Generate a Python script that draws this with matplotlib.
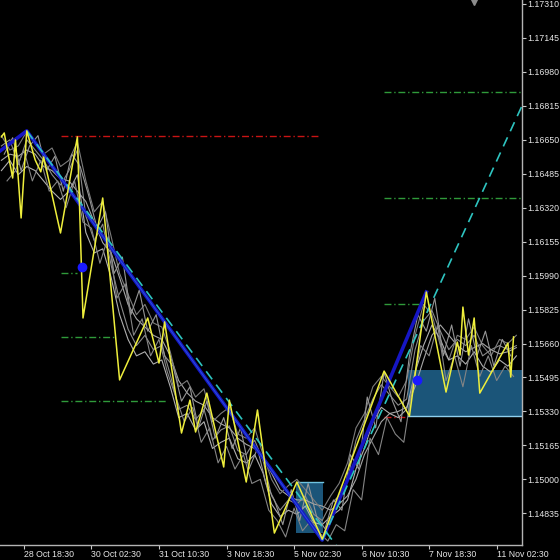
import matplotlib
matplotlib.use("Agg")
import matplotlib.pyplot as plt
from matplotlib.patches import Rectangle

plt.rcParams["font.family"] = ["Liberation Sans", "DejaVu Sans"]

# eje x en barras (indice de vela), eje y en precio
X_MIN, X_MAX = -0.5, 185
Y_MIN, Y_MAX = 1.14681, 1.17329

precio_ticks = [1.14835, 1.15000, 1.15165, 1.15330, 1.15495, 1.15660, 1.15825, 1.15990,
                1.16155, 1.16320, 1.16485, 1.16650, 1.16815, 1.16980, 1.17145, 1.17310]
fecha_barras = [8, 32, 56, 80, 104, 128, 152, 176]
fecha_labels = ["28 Oct 18:30", "30 Oct 02:30", "31 Oct 10:30", "3 Nov 18:30",
                "5 Nov 02:30", "6 Nov 10:30", "7 Nov 18:30", "11 Nov 02:30"]

# zigzag amarillo
zz_barras = [0, 1, 4, 5, 7, 9, 12, 14, 15, 21, 27, 29, 36, 42, 52, 56, 58, 64, 67, 69,
             73, 79, 81, 87, 91, 97, 105, 114, 136, 145, 151, 158, 162, 163, 164, 166,
             168, 170, 180, 181, 182]
zz_precio = [1.16664, 1.16683, 1.16464, 1.16649, 1.16270, 1.16693, 1.16552, 1.16494,
             1.16566, 1.16197, 1.16664, 1.15784, 1.16367, 1.15483, 1.15784, 1.15565,
             1.15765, 1.15225, 1.15385, 1.15230, 1.15419, 1.15060, 1.15385, 1.14987,
             1.15337, 1.14739, 1.14987, 1.14710, 1.15526, 1.15308, 1.15910, 1.15424,
             1.15667, 1.15604, 1.15837, 1.15604, 1.15784, 1.15419, 1.15662, 1.15497,
             1.15692]

# lineas grises (cierres de distintos escenarios)
gris_barras_a = list(range(0, 184, 3))
gris_barras_b = list(range(1, 182, 3))
gris_barras_c = list(range(2, 183, 3))
gris_1 = [1.1662, 1.1665, 1.1653, 1.1665, 1.1660, 1.1655, 1.1648, 1.1643, 1.1650, 1.1660,
          1.1628, 1.1616, 1.1624, 1.1604, 1.1587, 1.1573, 1.1565, 1.1570, 1.1563, 1.1565,
          1.1551, 1.1534, 1.1536, 1.1529, 1.1534, 1.1519, 1.1524, 1.1526, 1.1514, 1.1512,
          1.1519, 1.1509, 1.1492, 1.1485, 1.1490, 1.1488, 1.1492, 1.1483, 1.1480, 1.1488,
          1.1492, 1.1500, 1.1519, 1.1529, 1.1539, 1.1546, 1.1541, 1.1536, 1.1539, 1.1563,
          1.1577, 1.1582, 1.1572, 1.1563, 1.1568, 1.1565, 1.1570, 1.1560, 1.1563, 1.1565,
          1.1563, 1.1565]
gris_2 = [1.1655, 1.1658, 1.1657, 1.1660, 1.1658, 1.1652, 1.1650, 1.1646, 1.1645, 1.1640,
          1.1635, 1.1625, 1.1615, 1.1610, 1.1598, 1.1585, 1.1578, 1.1574, 1.1570, 1.1568,
          1.1560, 1.1548, 1.1542, 1.1538, 1.1536, 1.1530, 1.1527, 1.1525, 1.1520, 1.1517,
          1.1515, 1.1510, 1.1503, 1.1495, 1.1492, 1.1490, 1.1490, 1.1488, 1.1487, 1.1485,
          1.1488, 1.1492, 1.1500, 1.1512, 1.1520, 1.1528, 1.1532, 1.1533, 1.1535, 1.1545,
          1.1558, 1.1570, 1.1575, 1.1570, 1.1565, 1.1562, 1.1564, 1.1566, 1.1563, 1.1561,
          1.1562, 1.1564]
gris_3 = [1.1667, 1.1660, 1.1662, 1.1669, 1.1663, 1.1658, 1.1661, 1.1652, 1.1655, 1.1664,
          1.1645, 1.1630, 1.1635, 1.1618, 1.1600, 1.1590, 1.1580, 1.1585, 1.1576, 1.1574,
          1.1562, 1.1545, 1.1548, 1.1540, 1.1544, 1.1528, 1.1532, 1.1535, 1.1522, 1.1520,
          1.1525, 1.1512, 1.1500, 1.1493, 1.1497, 1.1500, 1.1495, 1.1490, 1.1485, 1.1492,
          1.1498, 1.1508, 1.1525, 1.1532, 1.1545, 1.1550, 1.1545, 1.1540, 1.1548, 1.1570,
          1.1585, 1.1580, 1.1565, 1.1558, 1.1570, 1.1568, 1.1574, 1.1565, 1.1560, 1.1568,
          1.1566, 1.1570]
gris_4 = [1.1650, 1.1655, 1.1648, 1.1652, 1.1650, 1.1645, 1.1640, 1.1636, 1.1640, 1.1648,
          1.1620, 1.1610, 1.1612, 1.1598, 1.1580, 1.1568, 1.1560, 1.1562, 1.1556, 1.1558,
          1.1545, 1.1530, 1.1532, 1.1524, 1.1528, 1.1515, 1.1518, 1.1520, 1.1510, 1.1508,
          1.1512, 1.1503, 1.1488, 1.1482, 1.1485, 1.1483, 1.1487, 1.1479, 1.1478, 1.1482,
          1.1485, 1.1490, 1.1505, 1.1515, 1.1528, 1.1535, 1.1532, 1.1530, 1.1534, 1.1552,
          1.1565, 1.1575, 1.1568, 1.1558, 1.1560, 1.1556, 1.1562, 1.1555, 1.1552, 1.1558,
          1.1555, 1.1560]
gris_5 = [1.1658, 1.1666, 1.1650, 1.1662, 1.1667, 1.1650, 1.1657, 1.1640, 1.1658, 1.1652,
          1.1638, 1.1622, 1.1630, 1.1600, 1.1608, 1.1580, 1.1592, 1.1572, 1.1580, 1.1560,
          1.1555, 1.1538, 1.1545, 1.1525, 1.1538, 1.1520, 1.1530, 1.1515, 1.1525, 1.1505,
          1.1515, 1.1498, 1.1490, 1.1478, 1.1495, 1.1480, 1.1498, 1.1482, 1.1476, 1.1490,
          1.1485, 1.1512, 1.1505, 1.1540, 1.1525, 1.1552, 1.1538, 1.1528, 1.1560, 1.1580,
          1.1572, 1.1588, 1.1560, 1.1575, 1.1555, 1.1578, 1.1560, 1.1572, 1.1555, 1.1568,
          1.1560]
gris_6 = [1.1645, 1.1650, 1.1660, 1.1645, 1.1655, 1.1640, 1.1645, 1.1632, 1.1645, 1.1625,
          1.1622, 1.1605, 1.1618, 1.1588, 1.1595, 1.1570, 1.1578, 1.1560, 1.1568, 1.1552,
          1.1540, 1.1528, 1.1535, 1.1518, 1.1525, 1.1508, 1.1516, 1.1505, 1.1512, 1.1498,
          1.1500, 1.1485, 1.1480, 1.1472, 1.1486, 1.1475, 1.1480, 1.1474, 1.1470, 1.1478,
          1.1475, 1.1495, 1.1490, 1.1520, 1.1512, 1.1530, 1.1522, 1.1518, 1.1545, 1.1565,
          1.1560, 1.1575, 1.1548, 1.1560, 1.1545, 1.1565, 1.1550, 1.1560, 1.1548, 1.1555,
          1.1550]
grises = [(gris_barras_a, gris_1, "#8a8a8a"), (gris_barras_a, gris_2, "#a6a6a6"),
          (gris_barras_a, gris_3, "#7c7c7c"), (gris_barras_a, gris_4, "#b0b0b0"),
          (gris_barras_b, gris_5, "#969696"), (gris_barras_c, gris_6, "#858585")]

# tendencia (azul) y canales (cian discontinuo)
tend_barras = [-1, 9, 114, 151]
tend_precio = [1.16590, 1.16693, 1.14705, 1.15910]
canal_baja_barras = [9, 120]
canal_baja_precio = [1.16693, 1.14660]
canal_alza_barras = [114, 185]
canal_alza_precio = [1.14705, 1.16815]

# niveles horizontales: (precio, barra inicio, barra fin)
niveles_verdes = [(1.16003, 21, 27), (1.15692, 21, 40), (1.15381, 21, 59),
                  (1.15852, 136, 150), (1.16367, 136, 185), (1.16882, 136, 185)]
niveles_rojos = [(1.16669, 21, 113), (1.15303, 136, 144)]

# zonas (barra inicio, barra fin, precio bajo, precio alto)
zonas = [(104.7, 114.3, 1.14739, 1.14987), (144.5, 185, 1.15308, 1.15531)]

# señales
senal_barras = [28.6, 147.7]
senal_precio = [1.16032, 1.15483]

fig = plt.figure(figsize=(5.6, 5.6), dpi=100, facecolor="black")
ax = fig.add_axes([0, 15 / 560, 522 / 560, 545 / 560], facecolor="black")

for b0, b1, p0, p1 in zonas:
    ax.add_patch(Rectangle((b0, p0), b1 - b0, p1 - p0, facecolor="#1b5579",
                           edgecolor="none", zorder=1))
ax.plot([zonas[0][0], zonas[0][1]], [zonas[0][3]] * 2, color="#6fc3e0", lw=1, zorder=2)
ax.plot([zonas[1][0], zonas[1][1]], [zonas[1][2]] * 2, color="#8fd0ee", lw=1, zorder=2)

for p, b0, b1 in niveles_verdes:
    ax.plot([b0, b1], [p, p], color="#2f9a3a", lw=1, dashes=(5, 2, 1, 2), zorder=2)
for p, b0, b1 in niveles_rojos:
    ax.plot([b0, b1], [p, p], color="#c81414", lw=1, dashes=(5, 2, 1, 2), zorder=2)

for xs, serie, c in grises:
    ax.plot(xs, serie, color=c, lw=0.8, zorder=3)

ax.plot(tend_barras, tend_precio, color="#1616c4", lw=2.6, zorder=4)
ax.plot(tend_barras[1:3], tend_precio[1:3], color="#3a8cf0", lw=0.7, zorder=4,
        alpha=0.5)
ax.plot(canal_baja_barras, canal_baja_precio, color="#2ec4c0", lw=1.2,
        dashes=(6, 4), zorder=4)
ax.plot(canal_alza_barras, canal_alza_precio, color="#2ec4c0", lw=1.2,
        dashes=(6, 4), zorder=4)

ax.plot(zz_barras, zz_precio, color="#eeee3c", lw=1.1, zorder=5)
ax.plot(senal_barras, senal_precio, "o", color="#1a1aff", ms=6, zorder=6)

# marcador de desplazamiento del grafico
ax.plot([168], [Y_MAX - 0.00008], "v", color="#8c8c8c", ms=4, zorder=6, clip_on=False)

ax.set_xlim(X_MIN, X_MAX)
ax.set_ylim(Y_MIN, Y_MAX)

ax.yaxis.tick_right()
ax.set_yticks(precio_ticks)
ax.set_yticklabels([f"{p:.5f}" for p in precio_ticks])
ax.set_xticks(fecha_barras)
ax.set_xticklabels(fecha_labels, ha="left")
ax.tick_params(axis="both", colors="#c8c8c8", labelcolor="#e6e6e6", labelsize=6.3,
               length=3, width=0.8, pad=1)
ax.tick_params(axis="x", pad=0.5)

for lado in ("left", "top"):
    ax.spines[lado].set_visible(False)
for lado in ("right", "bottom"):
    ax.spines[lado].set_color("#b4b4b4")
    ax.spines[lado].set_linewidth(1)

fig.savefig("out.png", dpi=100, facecolor="black")
